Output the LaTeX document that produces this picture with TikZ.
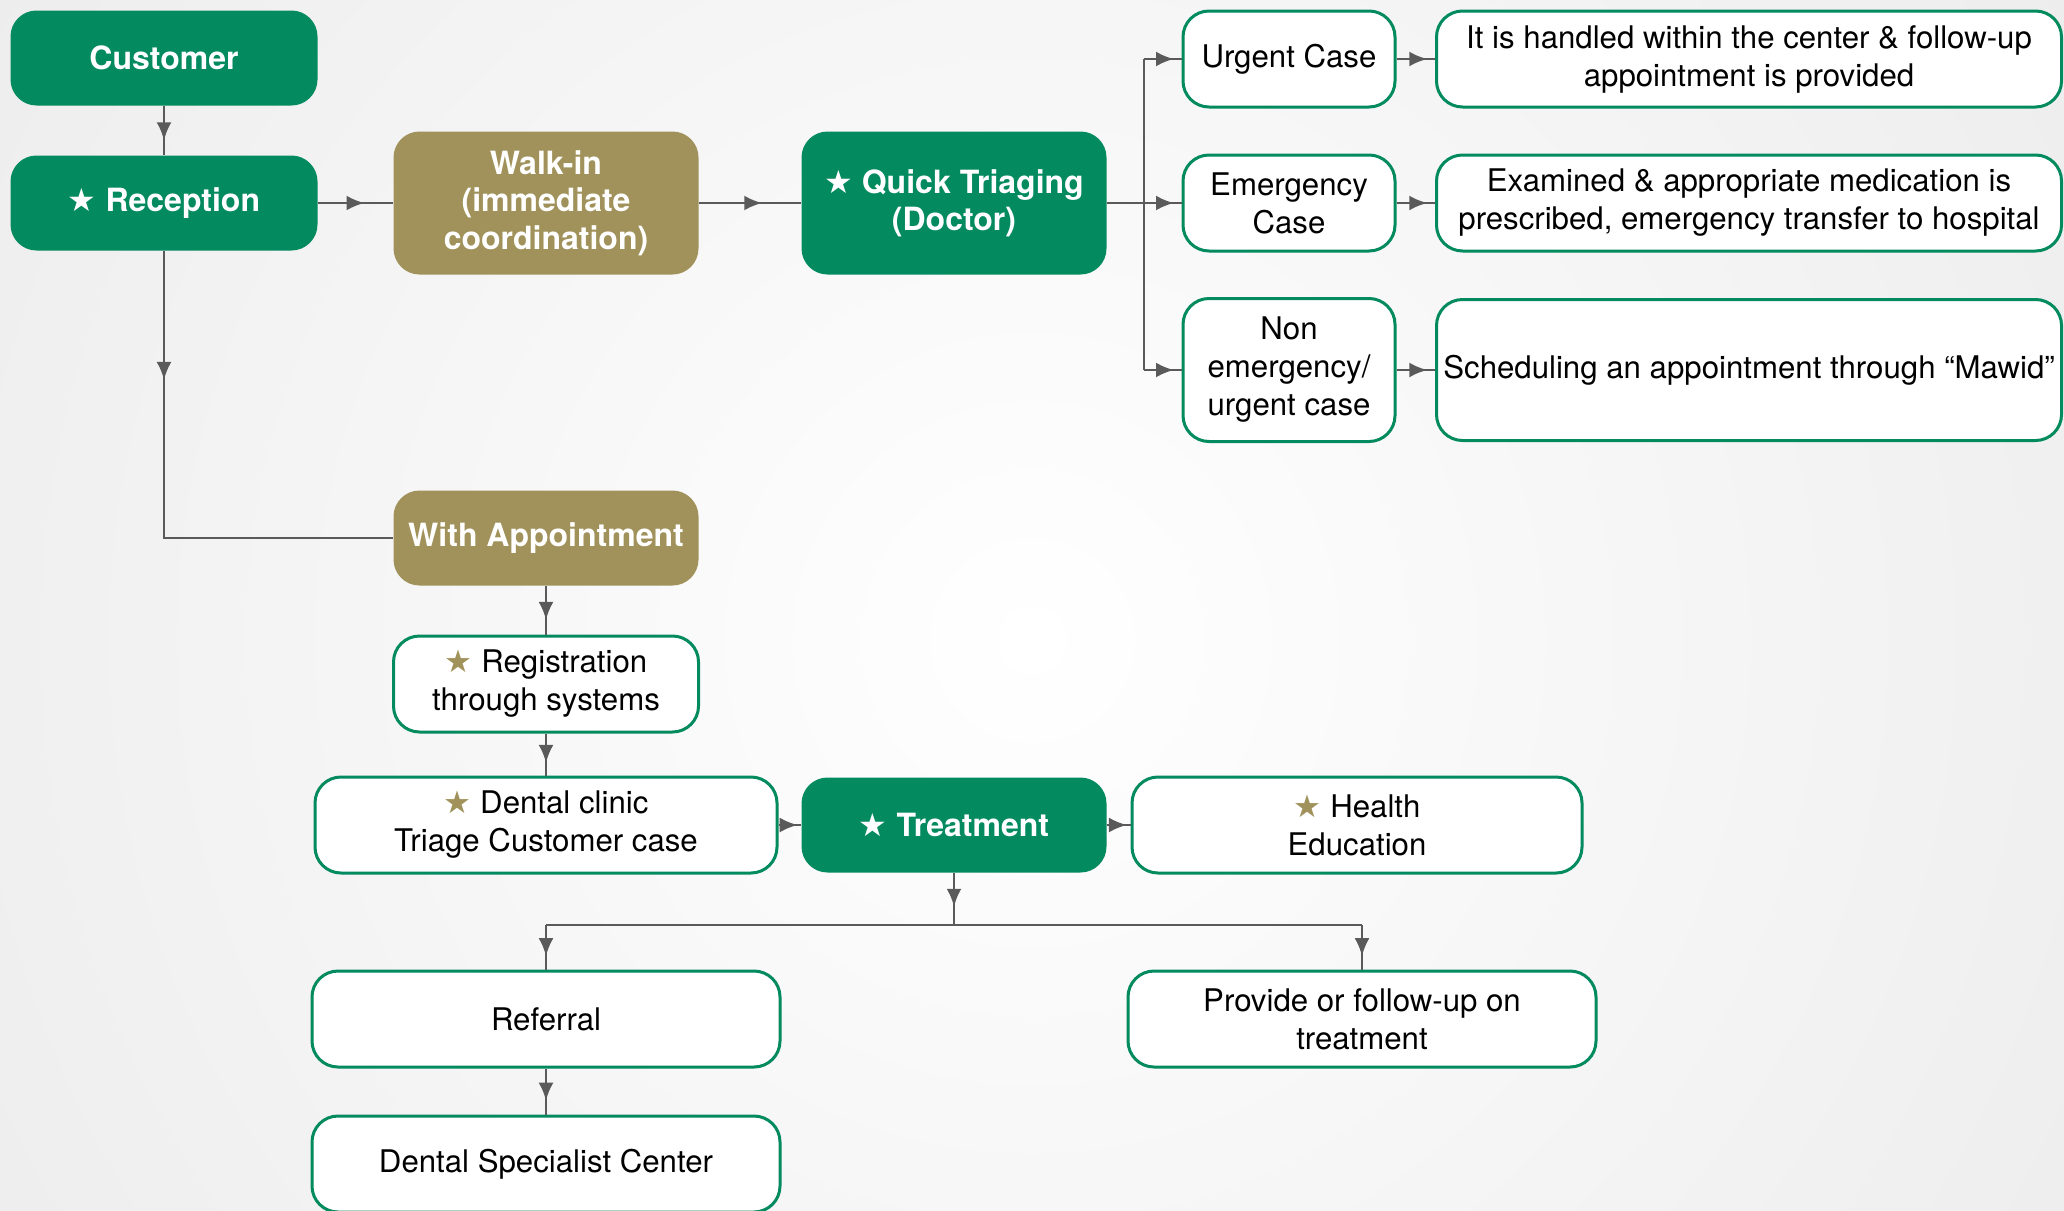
\documentclass[tikz,border=0pt]{standalone}
\usepackage{fontspec}
\setmainfont{TeX Gyre Heros}
\newfontfamily\starfont{DejaVu Sans}
\usepackage{tikz}
\usetikzlibrary{arrows.meta,decorations.markings}
\usepackage{xcolor}
\definecolor{mohgreen}{HTML}{038A5E}
\definecolor{mohgold}{HTML}{A0925A}
\definecolor{flowgray}{HTML}{5A5A5A}
\definecolor{bggray}{HTML}{ECECEC}

\newcommand{\wstar}{{\starfont\color{white}★}}
\newcommand{\gstar}{{\starfont\color{mohgold}★}}

\tikzset{
  box/.style={rectangle, rounded corners=13pt, align=center, inner sep=2pt,
    font=\fontsize{15.6}{19}\selectfont},
  greenbox/.style={box, fill=mohgreen, text=white,
    font=\fontsize{16}{18.7}\selectfont\bfseries},
  goldbox/.style={greenbox, fill=mohgold},
  whitebox/.style={box, draw=mohgreen, line width=1.5pt, fill=white, text=black},
  flow/.style={draw=flowgray, line width=1.4pt},
  arrowat/.style={postaction={decorate}, decoration={markings,
    mark=at position #1 with {\arrow[flowgray]{Latex[length=9pt,width=7.5pt]}}}},
}

\begin{document}
\begin{tikzpicture}[x=0.5pt, y=-0.5pt]
	\useasboundingbox (0,0) rectangle (2064,1210);
	% background
	\begin{scope}
		\clip (0,0) rectangle (2064,1210);
		\fill[bggray] (0,0) rectangle (2064,1210);
		\shade[inner color=white, outer color=bggray] (1032,640) circle (1300);
	\end{scope}

	% left column
	\node[greenbox, minimum width=153.5pt, minimum height=47.5pt] (customer) at (164,58) {Customer};
	\node[greenbox, minimum width=153.5pt, minimum height=47.5pt] (reception) at (164,203) {\wstar\ Reception};
	\node[goldbox, minimum width=152.5pt, minimum height=71.5pt] (walkin) at (546,203) {Walk-in\\(immediate\\coordination)};
	\node[greenbox, minimum width=152.5pt, minimum height=71.5pt] (quick) at (954,203) {\wstar\ Quick Triaging\\(Doctor)};

	% cases
	\node[whitebox, minimum width=106pt, minimum height=48pt] (urgent) at (1289,59) {Urgent Case};
	\node[whitebox, minimum width=106pt, minimum height=48pt] (emergency) at (1289,203) {Emergency\\Case};
	\node[whitebox, minimum width=106pt, minimum height=71.5pt] (nonurgent) at (1289,370) {Non\\emergency/\\urgent case};
	\node[whitebox, minimum width=312.5pt, minimum height=48pt] (handled) at (1749,59) {It is handled within the center \& follow-up\\appointment is provided};
	\node[whitebox, minimum width=312.5pt, minimum height=48pt] (examined) at (1749,203) {Examined \& appropriate medication is\\prescribed, emergency transfer to hospital};
	\node[whitebox, minimum width=312.5pt, minimum height=70.5pt] (scheduling) at (1749,370) {Scheduling an appointment through “Mawid”};

	% appointment path
	\node[goldbox, minimum width=152.5pt, minimum height=47.5pt] (withappt) at (546,538) {With Appointment};
	\node[whitebox, minimum width=152.5pt, minimum height=48pt] (registration) at (546,684) {\gstar\ Registration\\through systems};
	\node[whitebox, minimum width=231pt, minimum height=48pt] (dentalclinic) at (546,825) {\gstar\ Dental clinic\\Triage Customer case};
	\node[greenbox, minimum width=152.5pt, minimum height=47.5pt] (treatment) at (954,825) {\wstar\ Treatment};
	\node[whitebox, minimum width=225pt, minimum height=48pt] (health) at (1357,825) {\gstar\ Health\\Education};
	\node[whitebox, minimum width=234pt, minimum height=48pt] (referral) at (546,1019) {Referral};
	\node[whitebox, minimum width=234pt, minimum height=48pt] (provide) at (1362,1019) {Provide or follow-up on\\treatment};
	\node[whitebox, minimum width=234pt, minimum height=48pt] (specialist) at (546,1164) {Dental Specialist Center};

	\coordinate (fork) at (1144,203);
	\coordinate (split) at (954,925);

	% connectors
	\draw[flow, arrowat=0.7] (customer) -- (reception);
	\draw[flow, arrowat=0.62] (reception) -- (walkin);
	\draw[flow, arrowat=0.62] (walkin) -- (quick);
	\draw[flow] (quick.east) -- (fork);
	\draw[flow] (fork |- urgent) -- (fork |- nonurgent);
	\draw[flow, arrowat=0.8] (fork |- urgent) -- (urgent.west);
	\draw[flow, arrowat=0.8] (fork) -- (emergency.west);
	\draw[flow, arrowat=0.8] (fork |- nonurgent) -- (nonurgent.west);
	\draw[flow, arrowat=0.8] (urgent) -- (handled);
	\draw[flow, arrowat=0.8] (emergency) -- (examined);
	\draw[flow, arrowat=0.8] (nonurgent) -- (scheduling);
	\draw[flow, arrowat=0.25] (reception.south) |- (withappt.west);
	\draw[flow, arrowat=0.7] (withappt) -- (registration);
	\draw[flow, arrowat=0.7] (registration) -- (dentalclinic);
	\draw[flow, arrowat=0.85] (dentalclinic) -- (treatment);
	\draw[flow, arrowat=0.85] (treatment) -- (health);
	\draw[flow, arrowat=0.65] (treatment.south) -- (split);
	\draw[flow] (split -| referral) -- (split -| provide);
	\draw[flow, arrowat=0.7] (split -| referral) -- (referral.north);
	\draw[flow, arrowat=0.7] (split -| provide) -- (provide.north);
	\draw[flow, arrowat=0.7] (referral) -- (specialist);
\end{tikzpicture}
\end{document}
